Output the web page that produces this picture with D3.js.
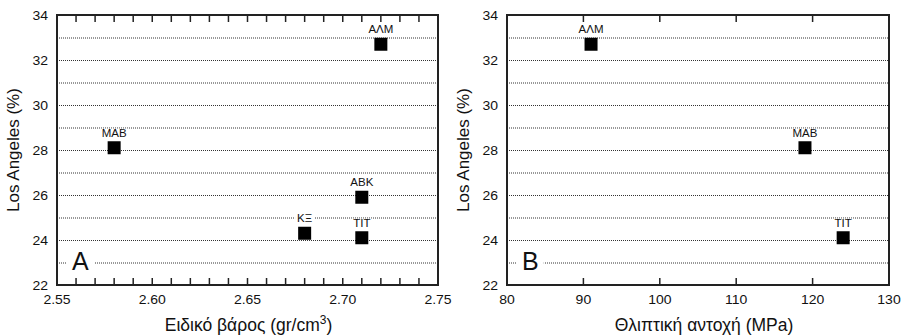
<!DOCTYPE html>
<html>
<head>
<meta charset="utf-8">
<script src="https://d3js.org/d3.v7.min.js"></script>
<style>
  body { margin: 0; background: #fff; }
  text { font-family: "Liberation Sans", Arial, sans-serif; fill: #111; }
</style>
</head>
<body>
<div id="chart"></div>
<script>
// panel A: specific gravity vs Los Angeles
var codesA = ["ΑΛΜ", "ΜΑΒ", "ΚΞ", "ΑΒΚ", "ΤΙΤ"];
var densityA = [2.72, 2.58, 2.68, 2.71, 2.71];
var losAngelesA = [32.7, 28.1, 24.3, 25.9, 24.1];
// panel B: compressive strength vs Los Angeles
var codesB = ["ΑΛΜ", "ΜΑΒ", "ΤΙΤ"];
var strengthB = [91, 119, 124];
var losAngelesB = [32.7, 28.1, 24.1];

var yTicks = [22, 24, 26, 28, 30, 32, 34];
var xTicksA = [2.55, 2.60, 2.65, 2.70, 2.75];
var xTicksB = [80, 90, 100, 110, 120, 130];

var svg = d3.select("#chart").append("svg")
    .attr("width", 903)
    .attr("height", 336);

// text slightly stretched sideways, like the original figure
function wideText(g, x, y, str, size, anchor, sx) {
  return g.append("text")
    .attr("transform", "translate(" + x + "," + y + ") scale(" + sx + ",1)")
    .attr("text-anchor", anchor)
    .attr("font-size", size)
    .text(str);
}

function drawPanel(p) {
  var top = 15, bottom = 285;
  var x = d3.scaleLinear().domain(p.xDomain).range([p.left, p.right]);
  var y = d3.scaleLinear().domain([22, 34]).range([bottom, top]);
  var g = svg.append("g");

  // dotted grid every 1 unit
  var grid = y.ticks(12).filter(function(v) { return v > 22 && v < 34; });
  g.selectAll(".grid").data(grid).enter().append("line")
    .attr("x1", p.left).attr("x2", p.right)
    .attr("y1", function(d) { return y(d) + 0.5; })
    .attr("y2", function(d) { return y(d) + 0.5; })
    .attr("stroke", "#333")
    .attr("stroke-width", 1)
    .attr("stroke-dasharray", "1,1");

  // y tick labels
  yTicks.forEach(function(d) {
    wideText(g, p.left - 9, y(d) + 5, d, 12.5, "end", 1.12);
  });

  // x tick labels
  p.xTicks.forEach(function(d) {
    wideText(g, x(d), bottom + 19, p.format(d), 12.5, "middle", 1.12);
  });

  // panel letter with white box
  var letter = g.append("text")
    .attr("x", p.left + 15)
    .attr("y", 270)
    .attr("font-size", 25)
    .text(p.letter);
  var lb = letter.node().getBBox();
  g.insert("rect", function() { return letter.node(); })
    .attr("x", lb.x - 5).attr("y", lb.y)
    .attr("width", lb.width + 10).attr("height", lb.height)
    .attr("fill", "#fff");

  // point labels with white boxes
  p.codes.forEach(function(c, i) {
    var lg = g.append("g")
      .attr("transform", "translate(" + x(p.xs[i]) + "," + (y(p.ys[i]) - 11) + ")");
    var t = lg.append("text")
      .attr("text-anchor", "middle")
      .attr("font-size", 11.5)
      .text(c);
    var b = t.node().getBBox();
    lg.insert("rect", "text")
      .attr("x", b.x - 2).attr("y", b.y + 2)
      .attr("width", b.width + 4).attr("height", b.height - 3)
      .attr("fill", "#fff");
  });

  // square markers
  g.selectAll(".pt").data(p.codes).enter().append("rect")
    .attr("x", function(d, i) { return x(p.xs[i]) - 6.5; })
    .attr("y", function(d, i) { return y(p.ys[i]) - 6.5; })
    .attr("width", 13)
    .attr("height", 13)
    .attr("fill", "#000");

  // inward ticks on top and bottom
  var ticks = p.minor.filter(function(v) { return x(v) > p.left + 1 && x(v) < p.right - 1; });
  g.selectAll(".tt").data(ticks).enter().append("line")
    .attr("x1", function(d) { return x(d); }).attr("x2", function(d) { return x(d); })
    .attr("y1", top).attr("y2", top + 7)
    .attr("stroke", "#222").attr("stroke-width", 1.5);
  g.selectAll(".tb").data(ticks).enter().append("line")
    .attr("x1", function(d) { return x(d); }).attr("x2", function(d) { return x(d); })
    .attr("y1", bottom).attr("y2", bottom - 7)
    .attr("stroke", "#222").attr("stroke-width", 1.5);

  // frame
  g.append("rect")
    .attr("x", p.left).attr("y", top)
    .attr("width", p.right - p.left).attr("height", bottom - top)
    .attr("fill", "none")
    .attr("stroke", "#222")
    .attr("stroke-width", 2);

  // axis titles
  var xt = g.append("text")
    .attr("x", (p.left + p.right) / 2 + p.titleShift)
    .attr("y", 331)
    .attr("text-anchor", "middle")
    .attr("font-size", 17.5);
  xt.append("tspan").text(p.title);
  if (p.sup) {
    xt.append("tspan").attr("dy", -7).attr("font-size", 12).text(p.sup);
    xt.append("tspan").attr("dy", 7).text(")");
  }

  g.append("text")
    .attr("transform", "translate(" + (p.left - 38) + "," + ((top + bottom) / 2) + ") rotate(-90)")
    .attr("text-anchor", "middle")
    .attr("font-size", 17)
    .text("Los Angeles (%)");
}

var xA = d3.scaleLinear().domain([2.55, 2.75]);
drawPanel({
  left: 57, right: 438,
  xDomain: [2.55, 2.75],
  xTicks: xTicksA,
  minor: xA.ticks(20),
  format: function(d) { return d.toFixed(2); },
  codes: codesA, xs: densityA, ys: losAngelesA,
  letter: "A",
  title: "Ειδικό βάρος (gr/cm",
  sup: "3",
  titleShift: 1
});

drawPanel({
  left: 507, right: 889,
  xDomain: [80, 130],
  xTicks: xTicksB,
  minor: xTicksB,
  format: function(d) { return d; },
  codes: codesB, xs: strengthB, ys: losAngelesB,
  letter: "B",
  title: "Θλιπτική αντοχή (MPa)",
  titleShift: 6
});
</script>
</body>
</html>
